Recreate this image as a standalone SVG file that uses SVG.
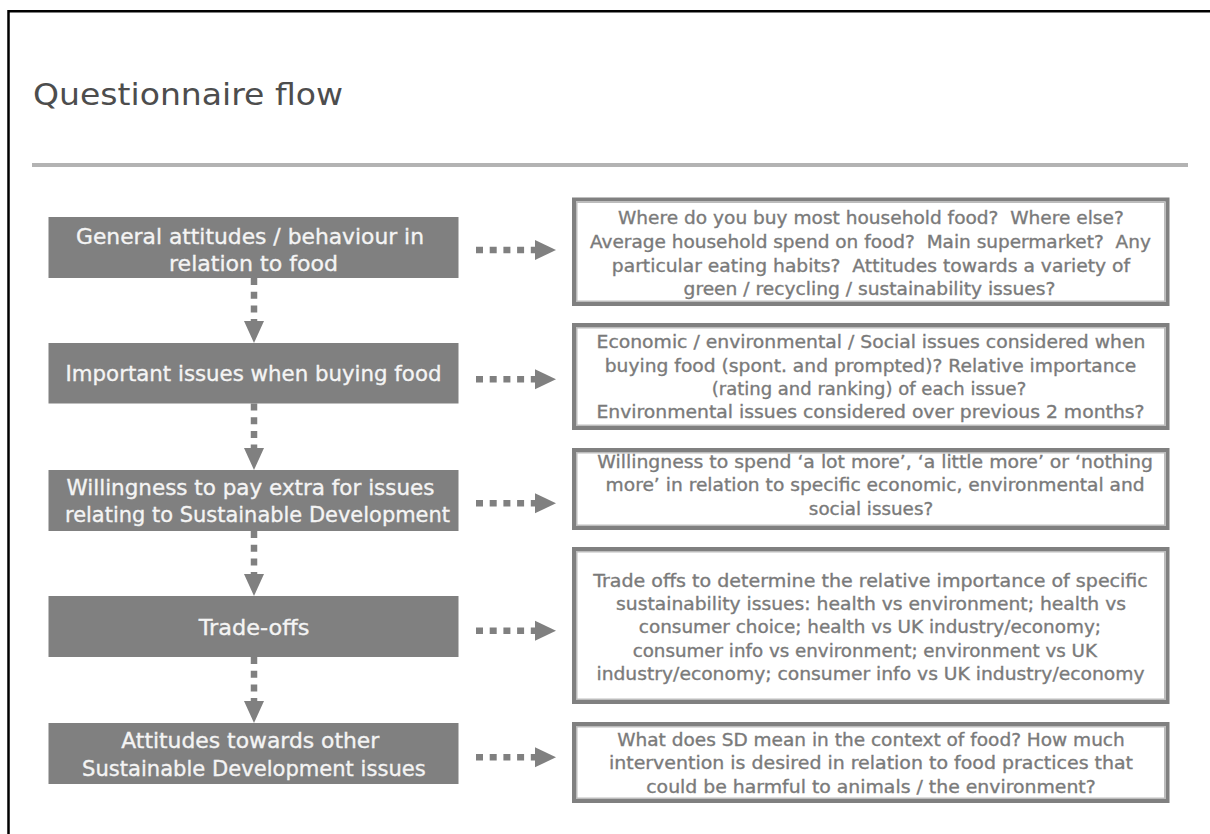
<svg xmlns="http://www.w3.org/2000/svg" width="1210" height="834" viewBox="0 0 1210 834">
<style>
.frame{fill:none;stroke:#000;stroke-width:2.5}
.title{font-family:"DejaVu Sans","Liberation Sans",sans-serif;font-size:31px;fill:#4d4d4d}
.rule{stroke:#b3b3b3;stroke-width:4}
.lbox{fill:#808080}
.ltxt{font-family:"DejaVu Sans","Liberation Sans",sans-serif;font-size:21.5px;fill:#f4f4f4;stroke:#f4f4f4;stroke-width:0.35;text-anchor:middle}
.rbox{fill:#fff;stroke:#808080;stroke-width:4}
.rin{fill:none;stroke:#bcbcbc;stroke-width:1.5}
.rtxt{font-family:"DejaVu Sans","Liberation Sans",sans-serif;font-size:18px;fill:#7a7a7a;stroke:#7a7a7a;stroke-width:0.35;text-anchor:middle;white-space:pre}
.dv{stroke:#808080;stroke-width:6.5;stroke-dasharray:7 6.7;fill:none}
.dh{stroke:#808080;stroke-width:6.5;stroke-dasharray:7 6.7;fill:none}
.head{fill:#808080}
</style>
<path class="frame" d="M8.5,834 V11.2 H1210"/>
<text class="title" x="33" y="105" textLength="310" lengthAdjust="spacingAndGlyphs">Questionnaire flow</text>
<line class="rule" x1="32" y1="165" x2="1188" y2="165"/>

<g id="n1">
<rect class="lbox" x="48.5" y="217" width="410" height="61"/>
<text class="ltxt" x="250" y="244" textLength="348" lengthAdjust="spacingAndGlyphs">General attitudes / behaviour in</text>
<text class="ltxt" x="253.5" y="270.5" textLength="169" lengthAdjust="spacingAndGlyphs">relation to food</text>
</g>
<g id="n2">
<rect class="lbox" x="48.5" y="343" width="410" height="60.5"/>
<text class="ltxt" x="253.5" y="381" textLength="376" lengthAdjust="spacingAndGlyphs">Important issues when buying food</text>
</g>
<g id="n3">
<rect class="lbox" x="48.5" y="470" width="410" height="61"/>
<text class="ltxt" x="250.5" y="495" textLength="368" lengthAdjust="spacingAndGlyphs">Willingness to pay extra for issues</text>
<text class="ltxt" x="257.5" y="522.3" textLength="385" lengthAdjust="spacingAndGlyphs">relating to Sustainable Development</text>
</g>
<g id="n4">
<rect class="lbox" x="48.5" y="596" width="410" height="61"/>
<text class="ltxt" x="254" y="635" textLength="110.7" lengthAdjust="spacingAndGlyphs">Trade-offs</text>
</g>
<g id="n5">
<rect class="lbox" x="48.5" y="723" width="410" height="61"/>
<text class="ltxt" x="250.3" y="748.3" textLength="258" lengthAdjust="spacingAndGlyphs">Attitudes towards other</text>
<text class="ltxt" x="253.9" y="776" textLength="343.6" lengthAdjust="spacingAndGlyphs">Sustainable Development issues</text>
</g>

<g id="r1">
<rect class="rbox" x="574" y="199.5" width="593.5" height="104.5"/>
<rect class="rin" x="576.75" y="202.25" width="588" height="99"/>
<text class="rtxt" x="870.9" y="224.3" textLength="505.8" lengthAdjust="spacingAndGlyphs">Where do you buy most household food?  Where else?</text>
<text class="rtxt" x="870.4" y="248.3" textLength="560.9" lengthAdjust="spacingAndGlyphs">Average household spend on food?  Main supermarket?  Any</text>
<text class="rtxt" x="871" y="271.7" textLength="518.3" lengthAdjust="spacingAndGlyphs">particular eating habits?  Attitudes towards a variety of</text>
<text class="rtxt" x="869.5" y="295" textLength="371.9" lengthAdjust="spacingAndGlyphs">green / recycling / sustainability issues?</text>
</g>
<g id="r2">
<rect class="rbox" x="574" y="325" width="593.5" height="103"/>
<rect class="rin" x="576.75" y="327.75" width="588" height="97.5"/>
<text class="rtxt" x="871" y="348.3" textLength="548.9" lengthAdjust="spacingAndGlyphs">Economic / environmental / Social issues considered when</text>
<text class="rtxt" x="870.5" y="371.7" textLength="531.5" lengthAdjust="spacingAndGlyphs">buying food (spont. and prompted)? Relative importance</text>
<text class="rtxt" x="869" y="395">(rating and ranking) of each issue?</text>
<text class="rtxt" x="870.5" y="418.3" textLength="548.1" lengthAdjust="spacingAndGlyphs">Environmental issues considered over previous 2 months?</text>
</g>
<g id="r3">
<rect class="rbox" x="574" y="450" width="593.5" height="78"/>
<rect class="rin" x="576.75" y="452.75" width="588" height="72.5"/>
<text class="rtxt" x="875.1" y="468.3" textLength="555.6" lengthAdjust="spacingAndGlyphs">Willingness to spend ‘a lot more’, ‘a little more’ or ‘nothing</text>
<text class="rtxt" x="875.1" y="491.3" textLength="539" lengthAdjust="spacingAndGlyphs">more’ in relation to specific economic, environmental and</text>
<text class="rtxt" x="871" y="515" textLength="124.3" lengthAdjust="spacingAndGlyphs">social issues?</text>
</g>
<g id="r4">
<rect class="rbox" x="574" y="549" width="593.5" height="153"/>
<rect class="rin" x="576.75" y="551.75" width="588" height="147.5"/>
<text class="rtxt" x="870.5" y="586.7" textLength="554.7" lengthAdjust="spacingAndGlyphs">Trade offs to determine the relative importance of specific</text>
<text class="rtxt" x="871" y="610" textLength="509.9" lengthAdjust="spacingAndGlyphs">sustainability issues: health vs environment; health vs</text>
<text class="rtxt" x="869.9" y="633.3" textLength="462.2" lengthAdjust="spacingAndGlyphs">consumer choice; health vs UK industry/economy;</text>
<text class="rtxt" x="864.8" y="656.7" textLength="464.3" lengthAdjust="spacingAndGlyphs">consumer info vs environment; environment vs UK</text>
<text class="rtxt" x="870.5" y="680" textLength="548.1" lengthAdjust="spacingAndGlyphs">industry/economy; consumer info vs UK industry/economy</text>
</g>
<g id="r5">
<rect class="rbox" x="574" y="724" width="593.5" height="77"/>
<rect class="rin" x="576.75" y="726.75" width="588" height="71.5"/>
<text class="rtxt" x="871" y="746" textLength="507.5" lengthAdjust="spacingAndGlyphs">What does SD mean in the context of food? How much</text>
<text class="rtxt" x="871" y="769.3" textLength="524.1" lengthAdjust="spacingAndGlyphs">intervention is desired in relation to food practices that</text>
<text class="rtxt" x="871" y="792.7" textLength="449.5" lengthAdjust="spacingAndGlyphs">could be harmful to animals / the environment?</text>
</g>

<g id="connectors">
<line class="dv" x1="254" y1="278" x2="254" y2="321"/>
<polygon class="head" points="244,321 264,321 254,343"/>
<line class="dv" x1="254" y1="403.5" x2="254" y2="448"/>
<polygon class="head" points="244,448 264,448 254,470"/>
<line class="dv" x1="254" y1="531" x2="254" y2="574"/>
<polygon class="head" points="244,574 264,574 254,596"/>
<line class="dv" x1="254" y1="657" x2="254" y2="701"/>
<polygon class="head" points="244,701 264,701 254,723"/>

<line class="dh" x1="476" y1="250" x2="535" y2="250"/>
<polygon class="head" points="535,240 535,260 556,250"/>
<line class="dh" x1="476" y1="379.3" x2="535" y2="379.3"/>
<polygon class="head" points="535,369.3 535,389.3 556,379.3"/>
<line class="dh" x1="476" y1="503.3" x2="535" y2="503.3"/>
<polygon class="head" points="535,493.3 535,513.3 556,503.3"/>
<line class="dh" x1="476" y1="630.7" x2="535" y2="630.7"/>
<polygon class="head" points="535,620.7 535,640.7 556,630.7"/>
<line class="dh" x1="476" y1="757.3" x2="535" y2="757.3"/>
<polygon class="head" points="535,747.3 535,767.3 556,757.3"/>
</g>
</svg>
